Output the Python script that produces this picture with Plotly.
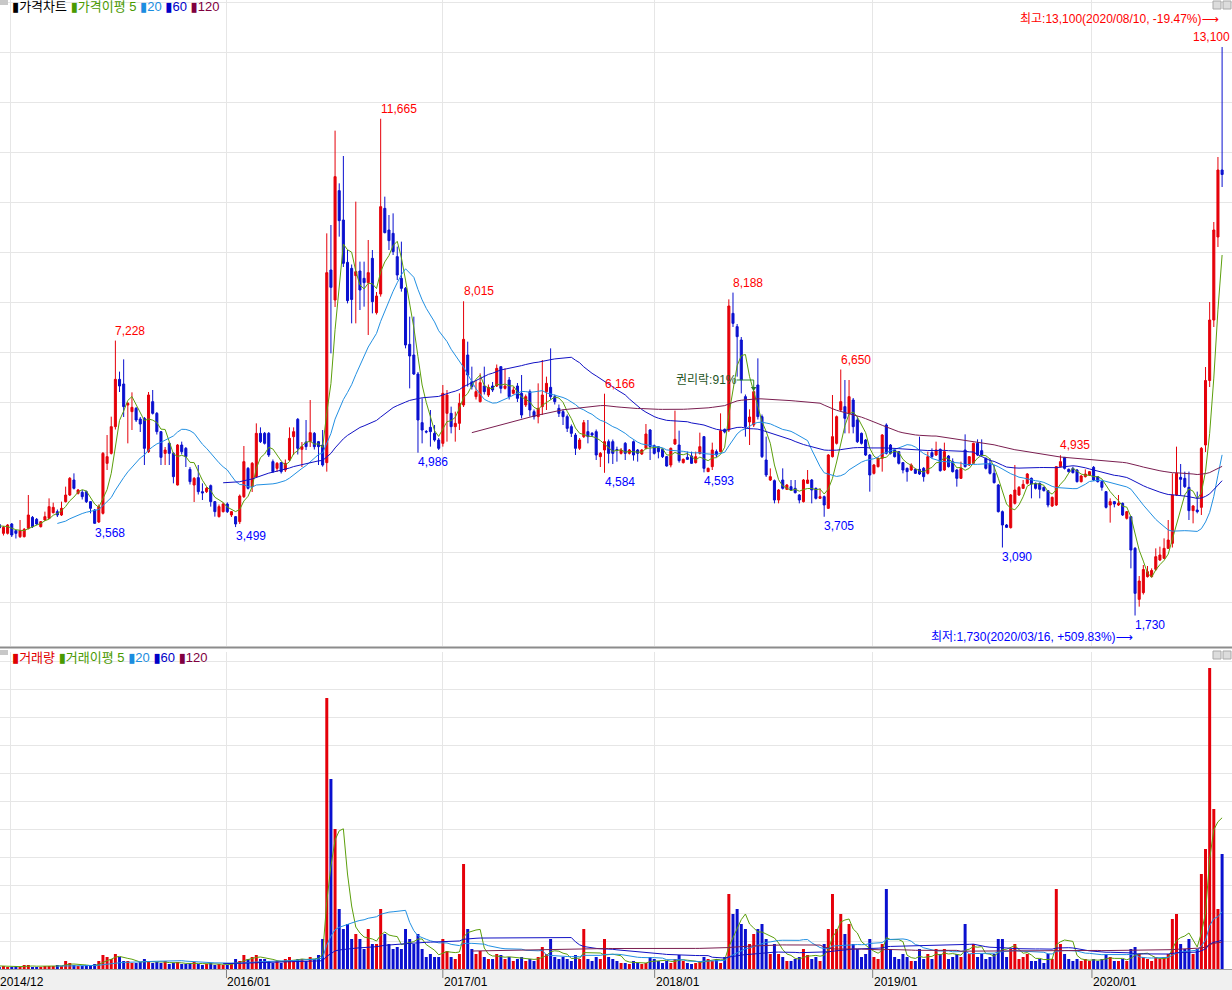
import plotly.graph_objects as go
import pandas as pd

# ---------------- data (weekly bars, index 0..300; bars 0-4 lie left of the visible window) -------------
opens = [
    3500, 3520, 3560, 3540, 3500, 3550, 3373, 3373, 3560, 3427,
    3307, 3307, 3473, 3693, 3653, 3507, 3640, 3673, 3787, 3807,
    3740, 4007, 4140, 4440, 4173, 4193, 4207, 4007, 3840, 3600,
    3773, 4773, 4973, 5507, 6453, 6360, 5940, 5807, 5873, 5660,
    5673, 5007, 6007, 5773, 5407, 4973, 5173, 4973, 4340, 5140,
    5073, 4653, 4340, 4487, 4207, 4207, 4327, 4007, 3707, 3807,
    3960, 3740, 3707, 3607, 4107, 4673, 4307, 4507, 5373, 5373,
    5373, 4807, 4673, 4787, 4640, 4840, 5307, 5653, 5053, 5200,
    5207, 5373, 5207, 5140, 4787, 8640, 8040, 10227, 9640, 8793,
    8673, 8527, 8620, 8473, 8387, 8873, 7787, 8160, 9873, 9440,
    9373, 8907, 8473, 8273, 7153, 6940, 6560, 5587, 5410, 5493,
    5373, 5240, 5173, 5773, 5773, 5507, 5573, 5940, 6940, 6407,
    6107, 6007, 6320, 6140, 6320, 6320, 6707, 6273, 6440, 6173,
    6320, 6173, 5940, 6207, 5807, 5707, 5907, 6207, 6293, 6107,
    5873, 5807, 5707, 5507, 5340, 5073, 5307, 5407, 5373, 5407,
    4907, 5040, 5207, 5207, 5050, 4973, 5173, 4973, 5207, 5040,
    4960, 5073, 5440, 5127, 5107, 5053, 4907, 4740, 5160, 5140,
    4787, 4893, 4920, 4787, 4973, 5307, 4607, 4707, 5007, 5007,
    5453, 5440, 7773, 7507, 7240, 6107, 5600, 5540, 6340, 5707,
    4840, 4440, 4427, 4040, 4440, 4253, 4307, 4273, 4140, 4007,
    4373, 4440, 4273, 4073, 4107, 3873, 4907, 5173, 5840, 5907,
    5773, 6040, 5640, 5373, 5240, 4940, 4573, 4707, 4873, 5540,
    5140, 5040, 5007, 4787, 4673, 4640, 4653, 4653, 4673, 4573,
    4987, 4940, 5053, 4640, 4920, 4807, 4640, 4473, 5040, 4740,
    4773, 5173, 5027, 4873, 4773, 4573, 4340, 3807, 3540, 3487,
    3973, 4140, 4273, 4373, 4473, 4373, 4373, 4293, 4227, 3920,
    3940, 4707, 4893, 4653, 4673, 4640, 4407, 4507, 4540, 4693,
    4507, 4407, 4207, 3940, 4007, 3940, 3973, 3673, 3707, 3073,
    2053, 2187, 2507, 2507, 2653, 2840, 2873, 3073, 3173, 4140,
    4493, 4473, 4293, 3827, 3840, 3893, 5140, 6430, 7640, 9300,
    10640,
]
highs = [
    3560, 3600, 3620, 3580, 3560, 3600, 3520, 3560, 3580, 3440,
    3640, 3480, 4140, 3720, 3680, 3620, 3807, 4073, 3987, 3850,
    4007, 4307, 4500, 4573, 4260, 4240, 4230, 4020, 3860, 3950,
    5000, 5340, 5707, 7228, 6607, 6853, 6000, 6193, 5900, 5700,
    5700, 6200, 6240, 5800, 5420, 5100, 5200, 5000, 5160, 5207,
    5100, 4700, 4500, 4740, 4373, 4300, 4350, 4020, 3950, 3990,
    3993, 3820, 3720, 4150, 5120, 4700, 4800, 5573, 5493, 5400,
    5400, 4850, 4800, 4800, 4850, 5493, 5493, 5680, 5200, 5640,
    6040, 5400, 5220, 5440, 9373, 9540, 11427, 10373, 10920, 9040,
    8750, 10007, 8807, 8807, 9240, 9040, 8200, 11665, 10107, 9740,
    9773, 9107, 9207, 8300, 7707, 7707, 6600, 6073, 5440, 5840,
    5540, 5280, 6340, 6240, 5907, 5807, 6173, 8015, 7207, 6707,
    6440, 6573, 6707, 6350, 6400, 6750, 6707, 6673, 6500, 6300,
    6380, 6540, 6150, 6250, 5850, 6373, 6840, 6507, 7073, 6150,
    5950, 5850, 5750, 5550, 5380, 5280, 5640, 5640, 5400, 5450,
    5000, 6166, 5250, 5250, 5107, 5080, 5200, 5060, 5230, 5060,
    5060, 5560, 5460, 5150, 5120, 5070, 4920, 5090, 5827, 5427,
    4870, 5007, 5007, 5007, 5387, 5320, 4690, 5187, 5050, 5773,
    5470, 8053, 8188, 7560, 7300, 6150, 5853, 6250, 6873, 5750,
    5307, 4673, 4450, 4260, 4673, 4360, 4440, 4440, 4160, 4460,
    4640, 4460, 4290, 4273, 4130, 4960, 6140, 5730, 6650, 6440,
    6440, 6080, 5707, 5390, 5260, 4960, 4760, 4890, 5360, 5573,
    5160, 5060, 5020, 4800, 4690, 4773, 4670, 5307, 4700, 5007,
    5073, 5207, 5070, 5187, 4940, 4873, 4660, 4807, 5353, 4920,
    5187, 5253, 5253, 4890, 4873, 4740, 4360, 3830, 3560, 4160,
    4740, 4320, 4440, 4580, 4490, 4390, 4390, 4310, 4240, 4110,
    4720, 4935, 4893, 4670, 4707, 4660, 4540, 4653, 4620, 4720,
    4520, 4420, 4220, 4073, 4020, 4140, 3990, 3820, 3720, 3100,
    2520, 2740, 2720, 2673, 3073, 3107, 3273, 3640, 4573, 5107,
    4760, 4607, 4607, 3940, 4207, 5100, 6700, 8000, 9600, 10900,
    13100,
]
lows = [
    3450, 3480, 3500, 3470, 3440, 3450, 3330, 3350, 3300, 3270,
    3280, 3290, 3450, 3480, 3540, 3490, 3620, 3660, 3770, 3700,
    3720, 3990, 4120, 4250, 4150, 4050, 3980, 3773, 3568, 3580,
    3750, 4640, 4950, 5450, 6200, 5700, 5173, 5440, 5600, 5400,
    4740, 4980, 5750, 5350, 4740, 4740, 4740, 4373, 4330, 4950,
    4700, 4350, 4000, 4150, 4040, 4180, 3907, 3707, 3690, 3790,
    3780, 3700, 3499, 3560, 4080, 4250, 4200, 4480, 5180, 5150,
    4900, 4580, 4600, 4570, 4600, 4820, 4940, 4950, 4700, 5040,
    5100, 5050, 4740, 4707, 4607, 6973, 7900, 9307, 8700, 7973,
    7573, 7573, 7840, 7907, 7340, 7773, 7750, 8107, 9373, 9040,
    8940, 8440, 8207, 7073, 6273, 6540, 4986, 5173, 5373, 5107,
    5207, 5040, 5107, 5207, 5373, 5207, 5440, 5900, 6307, 6250,
    6050, 5990, 6150, 6100, 6200, 6300, 6173, 6250, 6050, 6150,
    6000, 5673, 5900, 5707, 5650, 5573, 5740, 5840, 6050, 5950,
    5700, 5540, 5400, 5300, 4940, 5040, 5280, 5173, 5300, 4840,
    4700, 4584, 4773, 4760, 4807, 4950, 4840, 4950, 4827, 4807,
    4940, 5050, 4840, 4950, 4873, 4880, 4707, 4693, 5140, 4787,
    4770, 4840, 4760, 4770, 4950, 4593, 4600, 4640, 4900, 4990,
    5373, 5400, 7500, 6507, 6173, 5307, 5140, 5500, 5650, 4880,
    4500, 4420, 3973, 3973, 4250, 4240, 4220, 4170, 3973, 3990,
    4360, 3973, 4050, 4060, 3705, 3860, 4890, 5150, 5820, 5373,
    5373, 5373, 5180, 5150, 4920, 4207, 4550, 4690, 4607, 4950,
    4950, 4890, 4750, 4573, 4407, 4620, 4560, 4540, 4407, 4550,
    4880, 4920, 4607, 4620, 4690, 4590, 4307, 4460, 4690, 4720,
    4760, 4920, 4920, 4650, 4550, 4370, 3790, 3090, 3480, 3470,
    3950, 4120, 4260, 4350, 4073, 4250, 4073, 4210, 3893, 3900,
    3920, 4690, 4650, 4590, 4570, 4390, 4390, 4490, 4520, 4420,
    4390, 4227, 3870, 3587, 3893, 3920, 3720, 3650, 2673, 1730,
    1907, 2150, 2490, 2490, 2620, 2820, 2860, 3060, 3090, 4120,
    4140, 4280, 3640, 3573, 3773, 3740, 5000, 6300, 7500, 9100,
    10300,
]
closes = [
    3520, 3560, 3540, 3500, 3530, 3480, 3493, 3540, 3340, 3373,
    3427, 3453, 3740, 3507, 3560, 3607, 3707, 3907, 3893, 3740,
    3873, 4140, 4473, 4273, 4240, 4107, 4007, 3873, 3573, 3907,
    4973, 4907, 5507, 6453, 6320, 5907, 5973, 5893, 5640, 5560,
    5073, 6140, 5773, 5407, 4893, 5040, 4973, 4507, 5140, 5007,
    4907, 4407, 4473, 4207, 4180, 4273, 4007, 3807, 3907, 3960,
    3807, 3807, 3560, 4120, 4807, 4273, 4773, 5373, 5207, 5173,
    4940, 4607, 4773, 4607, 4773, 5273, 5407, 5073, 5107, 5107,
    5387, 5107, 5107, 4740, 8587, 8293, 10507, 9627, 8773, 8027,
    8050, 8607, 8240, 8387, 8587, 8007, 8120, 9907, 9387, 9227,
    9007, 8540, 8273, 7140, 6920, 6560, 5640, 5440, 5400, 5407,
    5240, 5073, 6173, 6140, 5507, 5573, 5973, 7253, 6540, 6307,
    6207, 6387, 6207, 6293, 6240, 6673, 6273, 6320, 6107, 6240,
    6073, 5740, 6107, 5840, 5707, 5873, 6140, 6373, 6107, 6007,
    5773, 5707, 5473, 5373, 5073, 5240, 5587, 5307, 5340, 4940,
    4973, 5207, 4973, 4973, 5030, 5040, 4973, 5040, 4940, 4973,
    5040, 5360, 5107, 4973, 5007, 4907, 4720, 5073, 5253, 4827,
    4853, 4853, 4773, 4907, 5107, 4673, 4673, 5040, 4940, 5427,
    5400, 7920, 7573, 7307, 6440, 5507, 5700, 6207, 5707, 4907,
    4540, 4507, 4040, 4240, 4273, 4340, 4240, 4187, 4040, 4440,
    4440, 4240, 4073, 4107, 3940, 4940, 5307, 5707, 6007, 5673,
    6107, 5507, 5207, 5173, 4940, 4540, 4740, 4873, 5340, 4973,
    4973, 4907, 4773, 4640, 4607, 4740, 4573, 4560, 4507, 4907,
    4907, 5040, 4627, 5007, 4707, 4607, 4473, 4673, 4707, 4907,
    5173, 4940, 4940, 4673, 4573, 4387, 3807, 3540, 3493, 4140,
    4240, 4293, 4353, 4560, 4360, 4273, 4253, 4227, 3940, 4093,
    4707, 4807, 4673, 4607, 4587, 4407, 4520, 4560, 4607, 4440,
    4407, 4293, 3893, 4007, 3960, 3973, 3740, 3807, 3040, 2173,
    2420, 2650, 2607, 2630, 2907, 2940, 3073, 3240, 4140, 4573,
    4453, 4307, 3827, 3920, 3807, 5073, 6430, 7640, 9440, 10640,
    10550,
]
volumes = [  # thousand shares
    30, 30, 40, 30, 30, 20, 30, 20, 20, 30,
    20, 40, 40, 20, 20, 20, 30, 30, 30, 40,
    30, 80, 60, 40, 30, 30, 40, 30, 50, 80,
    140, 120, 100, 150, 120, 80, 80, 60, 60, 70,
    100, 80, 60, 70, 60, 80, 50, 60, 70, 50,
    50, 60, 70, 50, 40, 50, 60, 40, 50, 40,
    40, 60, 100, 80, 140, 100, 120, 140, 100, 100,
    80, 60, 80, 60, 100, 120, 80, 100, 100, 80,
    120, 100, 140, 300, 2710, 1900, 1400, 600, 400, 450,
    300, 350, 300, 200, 400, 250, 250, 600, 350, 250,
    200, 220, 200, 400, 300, 250, 350, 200, 120, 150,
    120, 120, 300, 180, 120, 100, 150, 1050, 400, 200,
    150, 180, 120, 100, 100, 150, 140, 100, 120, 80,
    100, 120, 80, 100, 80, 120, 220, 150, 300, 120,
    100, 120, 100, 80, 140, 100, 400, 100, 80, 120,
    100, 300, 120, 100, 80, 60, 60, 50, 80, 60,
    50, 60, 120, 100, 80, 60, 80, 60, 100, 140,
    80, 60, 50, 60, 80, 120, 100, 80, 100, 60,
    120, 750, 550, 600, 450, 400, 250, 350, 400, 450,
    300, 150, 250, 150, 120, 80, 80, 100, 120, 200,
    140, 100, 120, 80, 250, 400, 750, 400, 550, 350,
    450, 250, 200, 120, 150, 300, 120, 100, 250, 800,
    200, 120, 100, 150, 120, 80, 80, 200, 100, 150,
    100, 200, 150, 200, 100, 120, 150, 120, 450, 150,
    250, 120, 150, 100, 120, 150, 300, 300, 120, 200,
    250, 100, 120, 150, 80, 80, 100, 60, 150, 100,
    800, 250, 150, 100, 80, 100, 80, 100, 80, 100,
    80, 100, 150, 120, 80, 80, 100, 80, 200, 220,
    150, 120, 100, 80, 120, 100, 120, 150, 500, 550,
    250, 200, 300, 150, 200, 950, 1200, 3010, 1600, 600,
    1150,
]

# x-axis: year gridlines (bar-index positions) and labels
grid_positions = [7.6, 59.8, 112.0, 163.1, 215.7, 268.6]
tick_positions = [59.8, 112.0, 163.1, 215.7, 268.6]
tick_labels = ["2016/01", "2017/01", "2018/01", "2019/01", "2020/01"]
first_label = "2014/12"

high_label_bars = [33, 97, 117, 151, 182, 208, 261]
low_label_bars = [28, 62, 106, 151, 175, 204, 247, 279]
high_date = "2020/08/10"
low_date = "2020/03/16"
rights_text = "권리락:91%"
rights_bar = 187
ma_periods = [5, 20, 60, 120]

# ---------------- styling ----------------
W, H = 1232, 990
RED = "#e5000a"
BLUE = "#0a10cf"
MA_COLORS = ["#5c9f0c", "#2290e2", "#1111c4", "#7a1e50"]
LEG_COLORS = ["#4a9a00", "#1b8de0", "#0000c8", "#800040"]
GRID = "#e6e6e6"
FONT = "Liberation Sans, Noto Sans CJK KR, DejaVu Sans"

X0, X1 = (0 + 21.4) / 4.145, (W + 21.4) / 4.145
P_BOT = (H - 646) / H
V_TOP = (H - 652) / H
V_BOT = (H - 969) / H


def py(px):  # paper y from pixel row
    return 1 - px / H


n = len(closes)
idx = list(range(n))
close_s = pd.Series(closes, dtype=float)
vol_s = pd.Series(volumes, dtype=float)

fig = go.Figure()
fig.add_trace(go.Candlestick(
    x=idx, open=opens, high=highs, low=lows, close=closes,
    increasing=dict(line=dict(color=RED, width=1), fillcolor=RED),
    decreasing=dict(line=dict(color=BLUE, width=1), fillcolor=BLUE),
    whiskerwidth=0, xaxis="x", yaxis="y", showlegend=False, hoverinfo="skip"))
for p, c in zip(ma_periods, MA_COLORS):
    fig.add_trace(go.Scatter(x=idx, y=close_s.rolling(p).mean(), mode="lines",
                             line=dict(color=c, width=1), xaxis="x", yaxis="y",
                             showlegend=False, hoverinfo="skip"))

vcolors = [RED if c >= o else BLUE for o, c in zip(opens, closes)]
fig.add_trace(go.Bar(x=idx, y=volumes, marker=dict(color=vcolors, line=dict(width=0)),
                     width=0.72, xaxis="x2", yaxis="y2", showlegend=False, hoverinfo="skip"))
for p, c in zip(ma_periods, MA_COLORS):
    fig.add_trace(go.Scatter(x=idx, y=vol_s.rolling(p).mean(), mode="lines",
                             line=dict(color=c, width=1), xaxis="x2", yaxis="y2",
                             showlegend=False, hoverinfo="skip"))

# rights-issue pointer marker
fig.add_trace(go.Scatter(x=[rights_bar], y=[6275], mode="markers",
                         marker=dict(symbol="triangle-down", size=5, color="#2a7a2a"),
                         xaxis="x", yaxis="y", showlegend=False, hoverinfo="skip"))

xcommon = dict(domain=[0, 1], range=[X0, X1], tickvals=grid_positions, showticklabels=False,
               showgrid=True, gridcolor=GRID, gridwidth=1, zeroline=False, showline=False,
               ticks="", fixedrange=True)
fig.update_layout(
    width=W, height=H, margin=dict(l=0, r=0, t=0, b=0),
    paper_bgcolor="white", plot_bgcolor="white", showlegend=False,
    xaxis=dict(anchor="y", rangeslider=dict(visible=False), **xcommon),
    xaxis2=dict(anchor="y2", **xcommon),
    yaxis=dict(domain=[P_BOT, 1], range=[1120, 14040], tick0=0, dtick=1000,
               showgrid=True, gridcolor=GRID, showticklabels=False, zeroline=False, ticks=""),
    yaxis2=dict(domain=[V_BOT, V_TOP], range=[0, 3170], tick0=0, dtick=280,
                showgrid=True, gridcolor=GRID, showticklabels=False, zeroline=False, ticks=""),
)

shapes = []
# bottom date strip
shapes.append(dict(type="rect", xref="paper", yref="paper", x0=0, x1=1, y0=0, y1=py(969),
                   fillcolor="#f0f0f0", line=dict(width=0), layer="below"))
shapes.append(dict(type="line", xref="paper", yref="paper", x0=0, x1=1, y0=py(969.5), y1=py(969.5),
                   line=dict(color="#a0a0a0", width=1)))
for t in tick_positions:
    shapes.append(dict(type="line", xref="x2", yref="paper", x0=t, x1=t, y0=py(970), y1=py(978),
                       line=dict(color="#808080", width=1)))
# panel separator
shapes.append(dict(type="line", xref="paper", yref="paper", x0=0, x1=1, y0=py(647.5), y1=py(647.5),
                   line=dict(color="#8c8c8c", width=2)))
# small panel handles / window buttons
for top in (0, 650):
    shapes.append(dict(type="rect", xref="paper", yref="paper", x0=0, x1=8 / W,
                       y0=py(top + 5), y1=py(top), fillcolor="#c8c8c8", line=dict(width=0)))
    for bx in (1213, 1223):
        shapes.append(dict(type="rect", xref="paper", yref="paper", x0=bx / W, x1=(bx + 8) / W,
                           y0=py(top + 9), y1=py(top + 1), fillcolor="#dcdcdc",
                           line=dict(color="#a8a8a8", width=1)))
# rights-issue pointer line
shapes.append(dict(type="path", xref="x", yref="y",
                   path=f"M {rights_bar - 4.1},6440 L {rights_bar},6440 L {rights_bar},6290",
                   line=dict(color="#2a8a2a", width=1)))

ann = []
# date labels
ann.append(dict(xref="paper", yref="paper", x=0, y=py(981.5), text=first_label, showarrow=False,
                xanchor="left", yanchor="middle", xshift=-2, font=dict(family=FONT, size=12, color="#000")))
for t, lab in zip(tick_positions, tick_labels):
    ann.append(dict(xref="x2", yref="paper", x=t, y=py(981.5), text=lab, showarrow=False,
                    xanchor="left", yanchor="middle", xshift=-1, font=dict(family=FONT, size=12, color="#000")))

# legends
price_leg = ("<span style='color:#000'>▮가격차트</span> "
             f"<span style='color:{LEG_COLORS[0]}'>▮가격이평 5</span> "
             f"<span style='color:{LEG_COLORS[1]}'>▮20</span> "
             f"<span style='color:{LEG_COLORS[2]}'>▮60</span> "
             f"<span style='color:{LEG_COLORS[3]}'>▮120</span>")
vol_leg = ("<span style='color:#e00000'>▮거래량</span> "
           f"<span style='color:{LEG_COLORS[0]}'>▮거래이평 5</span> "
           f"<span style='color:{LEG_COLORS[1]}'>▮20</span> "
           f"<span style='color:{LEG_COLORS[2]}'>▮60</span> "
           f"<span style='color:{LEG_COLORS[3]}'>▮120</span>")
ann.append(dict(xref="paper", yref="paper", x=10 / W, y=py(6.5), text=price_leg, showarrow=False,
                xanchor="left", yanchor="middle", font=dict(family=FONT, size=13)))
ann.append(dict(xref="paper", yref="paper", x=10 / W, y=py(657), text=vol_leg, showarrow=False,
                xanchor="left", yanchor="middle", font=dict(family=FONT, size=13)))

# high / low value labels
for b in high_label_bars:
    ann.append(dict(xref="x", yref="y", x=b, y=highs[b], text=f"{highs[b]:,}", showarrow=False,
                    xanchor="left", yanchor="bottom", xshift=-2, yshift=1,
                    font=dict(family=FONT, size=12, color="#ff0000")))
for b in low_label_bars:
    ann.append(dict(xref="x", yref="y", x=b, y=lows[b], text=f"{lows[b]:,}", showarrow=False,
                    xanchor="left", yanchor="top", xshift=-2, yshift=0,
                    font=dict(family=FONT, size=12, color="#0000ff")))

hi_val = max(highs)
lo_val = min(lows)
last = closes[-1]
hi_pct = (last - hi_val) / hi_val * 100
lo_pct = (last - lo_val) / lo_val * 100
ann.append(dict(xref="paper", yref="y", x=1, y=hi_val, text=f"{hi_val:,}", showarrow=False,
                xanchor="right", yanchor="bottom", yshift=1, font=dict(family=FONT, size=12, color="#ff0000")))
ann.append(dict(xref="paper", yref="paper", x=1221 / W, y=py(19.5),
                text=f"최고:{hi_val:,}({high_date}, {hi_pct:.2f}%)⟶", showarrow=False,
                xanchor="right", yanchor="middle", font=dict(family=FONT, size=12, color="#ff0000")))
ann.append(dict(xref="x", yref="y", x=279, y=1310,
                text=f"최저:{lo_val:,}({low_date}, +{lo_pct:.2f}%)⟶", showarrow=False,
                xanchor="right", yanchor="middle", font=dict(family=FONT, size=12, color="#0000ff")))
# rights issue text
ann.append(dict(xref="x", yref="y", x=rights_bar - 4.1, y=6440, text=rights_text, showarrow=False,
                xanchor="right", yanchor="middle", xshift=2, font=dict(family=FONT, size=12, color="#1f551f")))

fig.update_layout(shapes=shapes, annotations=ann)
fig.write_html("out.html", config={"displayModeBar": False},
               post_script="document.body.style.margin='0';")
